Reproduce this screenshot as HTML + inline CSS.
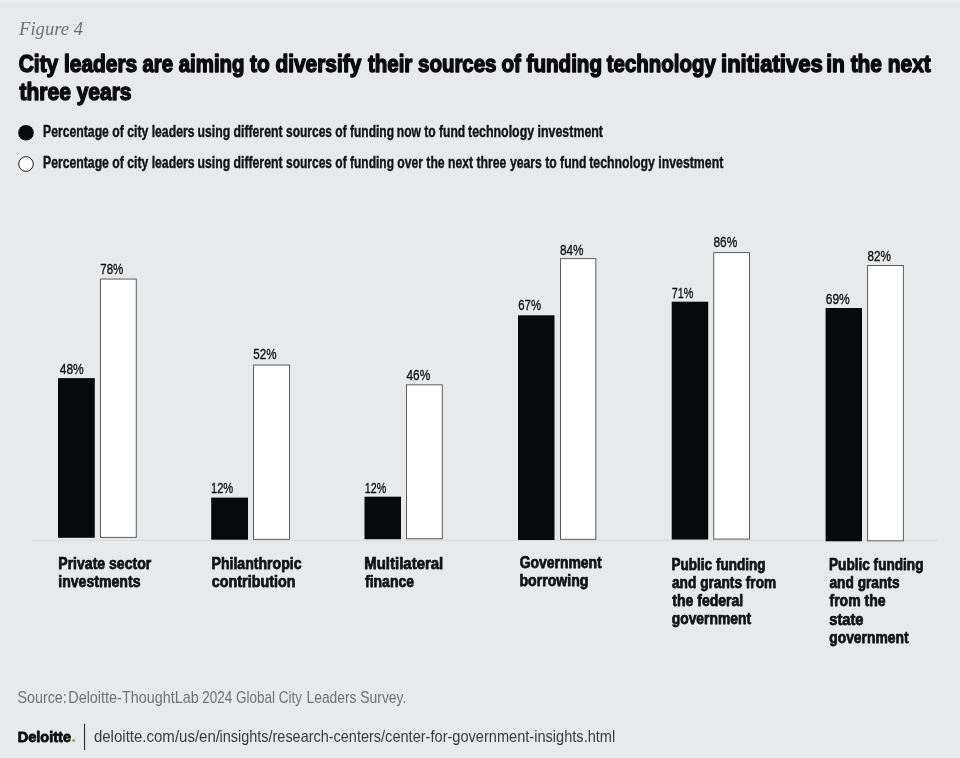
<!DOCTYPE html>
<html lang="en"><head><meta charset="utf-8"><title>Figure 4</title>
<style>html,body{margin:0;padding:0;background:#e8e9eb}svg{display:block}</style></head>
<body>
<svg width="960" height="758" viewBox="0 0 960 758">
<rect x="0" y="0" width="960" height="758" fill="#e8e9eb"/>
<rect x="0" y="0" width="960" height="1.5" fill="#eff0f2"/>
<rect x="32" y="539.8" width="905.5" height="1" fill="#d7d8da"/>
<circle cx="26" cy="132.75" r="7.8" fill="#08090b"/>
<circle cx="26" cy="164" r="7.3" fill="#ffffff" stroke="#1d1e20" stroke-width="1"/>
<rect x="58.00" y="378.10" width="36.80" height="159.70" fill="#08090b"/>
<rect x="100.45" y="279.05" width="35.80" height="258.30" fill="#ffffff" stroke="#4a4b4d" stroke-width="0.9"/>
<rect x="211.20" y="497.60" width="36.80" height="42.10" fill="#08090b"/>
<rect x="253.45" y="365.05" width="36.10" height="174.20" fill="#ffffff" stroke="#4a4b4d" stroke-width="0.9"/>
<rect x="364.50" y="496.70" width="36.50" height="42.50" fill="#08090b"/>
<rect x="406.55" y="384.85" width="35.70" height="153.90" fill="#ffffff" stroke="#4a4b4d" stroke-width="0.9"/>
<rect x="518.00" y="315.30" width="36.50" height="224.70" fill="#08090b"/>
<rect x="560.45" y="258.65" width="35.40" height="280.60" fill="#ffffff" stroke="#4a4b4d" stroke-width="0.9"/>
<rect x="671.70" y="301.70" width="36.50" height="237.80" fill="#08090b"/>
<rect x="713.75" y="252.65" width="35.80" height="286.40" fill="#ffffff" stroke="#4a4b4d" stroke-width="0.9"/>
<rect x="825.60" y="308.00" width="36.40" height="233.30" fill="#08090b"/>
<rect x="867.65" y="265.45" width="35.70" height="275.40" fill="#ffffff" stroke="#4a4b4d" stroke-width="0.9"/>
<circle cx="73.6" cy="740.35" r="1.6" fill="#8dbe36"/>
<rect x="84" y="723.8" width="1.1" height="26.2" fill="#2a2b2d"/>
<text x="19.00" y="34.50" font-family='"Liberation Serif", serif' font-size="19.5" font-weight="400" font-style="italic" fill="#6e7074" textLength="64.05" lengthAdjust="spacingAndGlyphs">Figure 4</text>
<text x="18.75" y="72.00" font-family='"Liberation Sans", sans-serif' font-size="23" font-weight="700" font-style="normal" fill="#0b0b0d" stroke="#0b0b0d" stroke-width="1.4" stroke-linejoin="round" textLength="118.50" lengthAdjust="spacingAndGlyphs">City leaders </text>
<text x="142.50" y="72.00" font-family='"Liberation Sans", sans-serif' font-size="23" font-weight="700" font-style="normal" fill="#0b0b0d" stroke="#0b0b0d" stroke-width="1.4" stroke-linejoin="round" textLength="102.00" lengthAdjust="spacingAndGlyphs">are aiming </text>
<text x="250.00" y="72.00" font-family='"Liberation Sans", sans-serif' font-size="23" font-weight="700" font-style="normal" fill="#0b0b0d" stroke="#0b0b0d" stroke-width="1.4" stroke-linejoin="round" textLength="111.26" lengthAdjust="spacingAndGlyphs">to diversify </text>
<text x="368.00" y="72.00" font-family='"Liberation Sans", sans-serif' font-size="23" font-weight="700" font-style="normal" fill="#0b0b0d" stroke="#0b0b0d" stroke-width="1.4" stroke-linejoin="round" textLength="128.50" lengthAdjust="spacingAndGlyphs">their sources </text>
<text x="501.50" y="72.00" font-family='"Liberation Sans", sans-serif' font-size="23" font-weight="700" font-style="normal" fill="#0b0b0d" stroke="#0b0b0d" stroke-width="1.4" stroke-linejoin="round" textLength="100.50" lengthAdjust="spacingAndGlyphs">of funding </text>
<text x="606.75" y="72.00" font-family='"Liberation Sans", sans-serif' font-size="23" font-weight="700" font-style="normal" fill="#0b0b0d" stroke="#0b0b0d" stroke-width="1.4" stroke-linejoin="round" textLength="109.02" lengthAdjust="spacingAndGlyphs">technology </text>
<text x="721.00" y="72.00" font-family='"Liberation Sans", sans-serif' font-size="23" font-weight="700" font-style="normal" fill="#0b0b0d" stroke="#0b0b0d" stroke-width="1.4" stroke-linejoin="round" textLength="101.76" lengthAdjust="spacingAndGlyphs">initiatives </text>
<text x="826.25" y="72.00" font-family='"Liberation Sans", sans-serif' font-size="23" font-weight="700" font-style="normal" fill="#0b0b0d" stroke="#0b0b0d" stroke-width="1.4" stroke-linejoin="round" textLength="104.50" lengthAdjust="spacingAndGlyphs">in the next</text>
<text x="19.50" y="100.00" font-family='"Liberation Sans", sans-serif' font-size="23" font-weight="700" font-style="normal" fill="#0b0b0d" stroke="#0b0b0d" stroke-width="1.4" stroke-linejoin="round" textLength="112.00" lengthAdjust="spacingAndGlyphs">three years</text>
<text x="43.00" y="136.75" font-family='"Liberation Sans", sans-serif' font-size="15.7" font-weight="700" font-style="normal" fill="#111214" stroke="#111214" stroke-width="0.4" stroke-linejoin="round" textLength="151.50" lengthAdjust="spacingAndGlyphs">Percentage of city leaders </text>
<text x="197.50" y="136.75" font-family='"Liberation Sans", sans-serif' font-size="15.7" font-weight="700" font-style="normal" fill="#111214" stroke="#111214" stroke-width="0.4" stroke-linejoin="round" textLength="85.00" lengthAdjust="spacingAndGlyphs">using different </text>
<text x="286.00" y="136.75" font-family='"Liberation Sans", sans-serif' font-size="15.7" font-weight="700" font-style="normal" fill="#111214" stroke="#111214" stroke-width="0.4" stroke-linejoin="round" textLength="108.00" lengthAdjust="spacingAndGlyphs">sources of funding </text>
<text x="396.75" y="136.75" font-family='"Liberation Sans", sans-serif' font-size="15.7" font-weight="700" font-style="normal" fill="#111214" stroke="#111214" stroke-width="0.4" stroke-linejoin="round" textLength="68.51" lengthAdjust="spacingAndGlyphs">now to fund </text>
<text x="468.00" y="136.75" font-family='"Liberation Sans", sans-serif' font-size="15.7" font-weight="700" font-style="normal" fill="#111214" stroke="#111214" stroke-width="0.4" stroke-linejoin="round" textLength="135.00" lengthAdjust="spacingAndGlyphs">technology investment</text>
<text x="43.00" y="168.00" font-family='"Liberation Sans", sans-serif' font-size="15.7" font-weight="700" font-style="normal" fill="#111214" stroke="#111214" stroke-width="0.4" stroke-linejoin="round" textLength="151.50" lengthAdjust="spacingAndGlyphs">Percentage of city leaders </text>
<text x="197.50" y="168.00" font-family='"Liberation Sans", sans-serif' font-size="15.7" font-weight="700" font-style="normal" fill="#111214" stroke="#111214" stroke-width="0.4" stroke-linejoin="round" textLength="85.00" lengthAdjust="spacingAndGlyphs">using different </text>
<text x="286.00" y="168.00" font-family='"Liberation Sans", sans-serif' font-size="15.7" font-weight="700" font-style="normal" fill="#111214" stroke="#111214" stroke-width="0.4" stroke-linejoin="round" textLength="108.00" lengthAdjust="spacingAndGlyphs">sources of funding </text>
<text x="397.25" y="168.00" font-family='"Liberation Sans", sans-serif' font-size="15.7" font-weight="700" font-style="normal" fill="#111214" stroke="#111214" stroke-width="0.4" stroke-linejoin="round" textLength="109.00" lengthAdjust="spacingAndGlyphs">over the next three </text>
<text x="510.00" y="168.00" font-family='"Liberation Sans", sans-serif' font-size="15.7" font-weight="700" font-style="normal" fill="#111214" stroke="#111214" stroke-width="0.4" stroke-linejoin="round" textLength="76.50" lengthAdjust="spacingAndGlyphs">years to fund </text>
<text x="589.25" y="168.00" font-family='"Liberation Sans", sans-serif' font-size="15.7" font-weight="700" font-style="normal" fill="#111214" stroke="#111214" stroke-width="0.4" stroke-linejoin="round" textLength="134.00" lengthAdjust="spacingAndGlyphs">technology investment</text>
<text x="59.75" y="373.80" font-family='"Liberation Sans", sans-serif' font-size="15.3" font-weight="400" font-style="normal" fill="#0e0f11" stroke="#0e0f11" stroke-width="0.35" stroke-linejoin="round" textLength="23.99" lengthAdjust="spacingAndGlyphs">48%</text>
<text x="100.25" y="274.00" font-family='"Liberation Sans", sans-serif' font-size="15.3" font-weight="400" font-style="normal" fill="#0e0f11" stroke="#0e0f11" stroke-width="0.35" stroke-linejoin="round" textLength="23.00" lengthAdjust="spacingAndGlyphs">78%</text>
<text x="211.00" y="493.30" font-family='"Liberation Sans", sans-serif' font-size="15.3" font-weight="400" font-style="normal" fill="#0e0f11" stroke="#0e0f11" stroke-width="0.35" stroke-linejoin="round" textLength="22.25" lengthAdjust="spacingAndGlyphs">12%</text>
<text x="253.25" y="358.80" font-family='"Liberation Sans", sans-serif' font-size="15.3" font-weight="400" font-style="normal" fill="#0e0f11" stroke="#0e0f11" stroke-width="0.35" stroke-linejoin="round" textLength="23.25" lengthAdjust="spacingAndGlyphs">52%</text>
<text x="364.75" y="493.30" font-family='"Liberation Sans", sans-serif' font-size="15.3" font-weight="400" font-style="normal" fill="#0e0f11" stroke="#0e0f11" stroke-width="0.35" stroke-linejoin="round" textLength="21.50" lengthAdjust="spacingAndGlyphs">12%</text>
<text x="406.50" y="380.30" font-family='"Liberation Sans", sans-serif' font-size="15.3" font-weight="400" font-style="normal" fill="#0e0f11" stroke="#0e0f11" stroke-width="0.35" stroke-linejoin="round" textLength="23.75" lengthAdjust="spacingAndGlyphs">46%</text>
<text x="518.25" y="310.00" font-family='"Liberation Sans", sans-serif' font-size="15.3" font-weight="400" font-style="normal" fill="#0e0f11" stroke="#0e0f11" stroke-width="0.35" stroke-linejoin="round" textLength="22.74" lengthAdjust="spacingAndGlyphs">67%</text>
<text x="560.00" y="254.50" font-family='"Liberation Sans", sans-serif' font-size="15.3" font-weight="400" font-style="normal" fill="#0e0f11" stroke="#0e0f11" stroke-width="0.35" stroke-linejoin="round" textLength="23.49" lengthAdjust="spacingAndGlyphs">84%</text>
<text x="671.75" y="297.50" font-family='"Liberation Sans", sans-serif' font-size="15.3" font-weight="400" font-style="normal" fill="#0e0f11" stroke="#0e0f11" stroke-width="0.35" stroke-linejoin="round" textLength="21.49" lengthAdjust="spacingAndGlyphs">71%</text>
<text x="713.50" y="247.20" font-family='"Liberation Sans", sans-serif' font-size="15.3" font-weight="400" font-style="normal" fill="#0e0f11" stroke="#0e0f11" stroke-width="0.35" stroke-linejoin="round" textLength="23.74" lengthAdjust="spacingAndGlyphs">86%</text>
<text x="825.75" y="303.70" font-family='"Liberation Sans", sans-serif' font-size="15.3" font-weight="400" font-style="normal" fill="#0e0f11" stroke="#0e0f11" stroke-width="0.35" stroke-linejoin="round" textLength="23.99" lengthAdjust="spacingAndGlyphs">69%</text>
<text x="867.50" y="261.00" font-family='"Liberation Sans", sans-serif' font-size="15.3" font-weight="400" font-style="normal" fill="#0e0f11" stroke="#0e0f11" stroke-width="0.35" stroke-linejoin="round" textLength="23.49" lengthAdjust="spacingAndGlyphs">82%</text>
<text x="58.25" y="568.90" font-family='"Liberation Sans", sans-serif' font-size="16.2" font-weight="700" font-style="normal" fill="#111214" stroke="#111214" stroke-width="0.75" stroke-linejoin="round" textLength="93.00" lengthAdjust="spacingAndGlyphs">Private sector</text>
<text x="58.25" y="587.00" font-family='"Liberation Sans", sans-serif' font-size="16.2" font-weight="700" font-style="normal" fill="#111214" stroke="#111214" stroke-width="0.75" stroke-linejoin="round" textLength="82.25" lengthAdjust="spacingAndGlyphs">investments</text>
<text x="211.50" y="569.20" font-family='"Liberation Sans", sans-serif' font-size="16.2" font-weight="700" font-style="normal" fill="#111214" stroke="#111214" stroke-width="0.75" stroke-linejoin="round" textLength="90.00" lengthAdjust="spacingAndGlyphs">Philanthropic</text>
<text x="211.75" y="587.00" font-family='"Liberation Sans", sans-serif' font-size="16.2" font-weight="700" font-style="normal" fill="#111214" stroke="#111214" stroke-width="0.75" stroke-linejoin="round" textLength="83.75" lengthAdjust="spacingAndGlyphs">contribution</text>
<text x="364.25" y="569.20" font-family='"Liberation Sans", sans-serif' font-size="16.2" font-weight="700" font-style="normal" fill="#111214" stroke="#111214" stroke-width="0.75" stroke-linejoin="round" textLength="79.01" lengthAdjust="spacingAndGlyphs">Multilateral</text>
<text x="365.00" y="587.00" font-family='"Liberation Sans", sans-serif' font-size="16.2" font-weight="700" font-style="normal" fill="#111214" stroke="#111214" stroke-width="0.75" stroke-linejoin="round" textLength="49.00" lengthAdjust="spacingAndGlyphs">finance</text>
<text x="519.75" y="567.50" font-family='"Liberation Sans", sans-serif' font-size="16.2" font-weight="700" font-style="normal" fill="#111214" stroke="#111214" stroke-width="0.75" stroke-linejoin="round" textLength="82.00" lengthAdjust="spacingAndGlyphs">Government</text>
<text x="519.50" y="585.80" font-family='"Liberation Sans", sans-serif' font-size="16.2" font-weight="700" font-style="normal" fill="#111214" stroke="#111214" stroke-width="0.75" stroke-linejoin="round" textLength="69.00" lengthAdjust="spacingAndGlyphs">borrowing</text>
<text x="671.50" y="569.70" font-family='"Liberation Sans", sans-serif' font-size="16.2" font-weight="700" font-style="normal" fill="#111214" stroke="#111214" stroke-width="0.75" stroke-linejoin="round" textLength="94.00" lengthAdjust="spacingAndGlyphs">Public funding</text>
<text x="672.00" y="588.00" font-family='"Liberation Sans", sans-serif' font-size="16.2" font-weight="700" font-style="normal" fill="#111214" stroke="#111214" stroke-width="0.75" stroke-linejoin="round" textLength="104.25" lengthAdjust="spacingAndGlyphs">and grants from</text>
<text x="672.25" y="606.30" font-family='"Liberation Sans", sans-serif' font-size="16.2" font-weight="700" font-style="normal" fill="#111214" stroke="#111214" stroke-width="0.75" stroke-linejoin="round" textLength="71.00" lengthAdjust="spacingAndGlyphs">the federal</text>
<text x="671.75" y="624.30" font-family='"Liberation Sans", sans-serif' font-size="16.2" font-weight="700" font-style="normal" fill="#111214" stroke="#111214" stroke-width="0.75" stroke-linejoin="round" textLength="79.25" lengthAdjust="spacingAndGlyphs">government</text>
<text x="829.00" y="569.70" font-family='"Liberation Sans", sans-serif' font-size="16.2" font-weight="700" font-style="normal" fill="#111214" stroke="#111214" stroke-width="0.75" stroke-linejoin="round" textLength="94.50" lengthAdjust="spacingAndGlyphs">Public funding</text>
<text x="829.50" y="588.00" font-family='"Liberation Sans", sans-serif' font-size="16.2" font-weight="700" font-style="normal" fill="#111214" stroke="#111214" stroke-width="0.75" stroke-linejoin="round" textLength="70.00" lengthAdjust="spacingAndGlyphs">and grants</text>
<text x="829.50" y="606.30" font-family='"Liberation Sans", sans-serif' font-size="16.2" font-weight="700" font-style="normal" fill="#111214" stroke="#111214" stroke-width="0.75" stroke-linejoin="round" textLength="56.00" lengthAdjust="spacingAndGlyphs">from the</text>
<text x="829.25" y="624.50" font-family='"Liberation Sans", sans-serif' font-size="16.2" font-weight="700" font-style="normal" fill="#111214" stroke="#111214" stroke-width="0.75" stroke-linejoin="round" textLength="34.24" lengthAdjust="spacingAndGlyphs">state</text>
<text x="829.25" y="642.80" font-family='"Liberation Sans", sans-serif' font-size="16.2" font-weight="700" font-style="normal" fill="#111214" stroke="#111214" stroke-width="0.75" stroke-linejoin="round" textLength="79.25" lengthAdjust="spacingAndGlyphs">government</text>
<text x="17.50" y="703.00" font-family='"Liberation Sans", sans-serif' font-size="17" font-weight="400" font-style="normal" fill="#707276" textLength="49.29" lengthAdjust="spacingAndGlyphs">Source: </text>
<text x="68.25" y="703.00" font-family='"Liberation Sans", sans-serif' font-size="17" font-weight="400" font-style="normal" fill="#707276" textLength="130.51" lengthAdjust="spacingAndGlyphs">Deloitte-ThoughtLab </text>
<text x="202.25" y="703.00" font-family='"Liberation Sans", sans-serif' font-size="17" font-weight="400" font-style="normal" fill="#707276" textLength="99.75" lengthAdjust="spacingAndGlyphs">2024 Global City </text>
<text x="306.50" y="703.00" font-family='"Liberation Sans", sans-serif' font-size="17" font-weight="400" font-style="normal" fill="#707276" textLength="99.78" lengthAdjust="spacingAndGlyphs">Leaders Survey.</text>
<text x="17.75" y="741.75" font-family='"Liberation Sans", sans-serif' font-size="14.2" font-weight="700" font-style="normal" fill="#0b0b0d" stroke="#0b0b0d" stroke-width="0.8" stroke-linejoin="round" textLength="53.25" lengthAdjust="spacingAndGlyphs">Deloitte</text>
<text x="93.90" y="741.75" font-family='"Liberation Sans", sans-serif' font-size="17" font-weight="400" font-style="normal" fill="#3a3b3e" textLength="126.10" lengthAdjust="spacingAndGlyphs">deloitte.com/us/en/</text>
<text x="219.50" y="741.75" font-family='"Liberation Sans", sans-serif' font-size="17" font-weight="400" font-style="normal" fill="#3a3b3e" textLength="165.50" lengthAdjust="spacingAndGlyphs">insights/research-centers/</text>
<text x="385.10" y="741.75" font-family='"Liberation Sans", sans-serif' font-size="17" font-weight="400" font-style="normal" fill="#3a3b3e" textLength="230.15" lengthAdjust="spacingAndGlyphs">center-for-government-insights.html</text>
</svg>
</body></html>
